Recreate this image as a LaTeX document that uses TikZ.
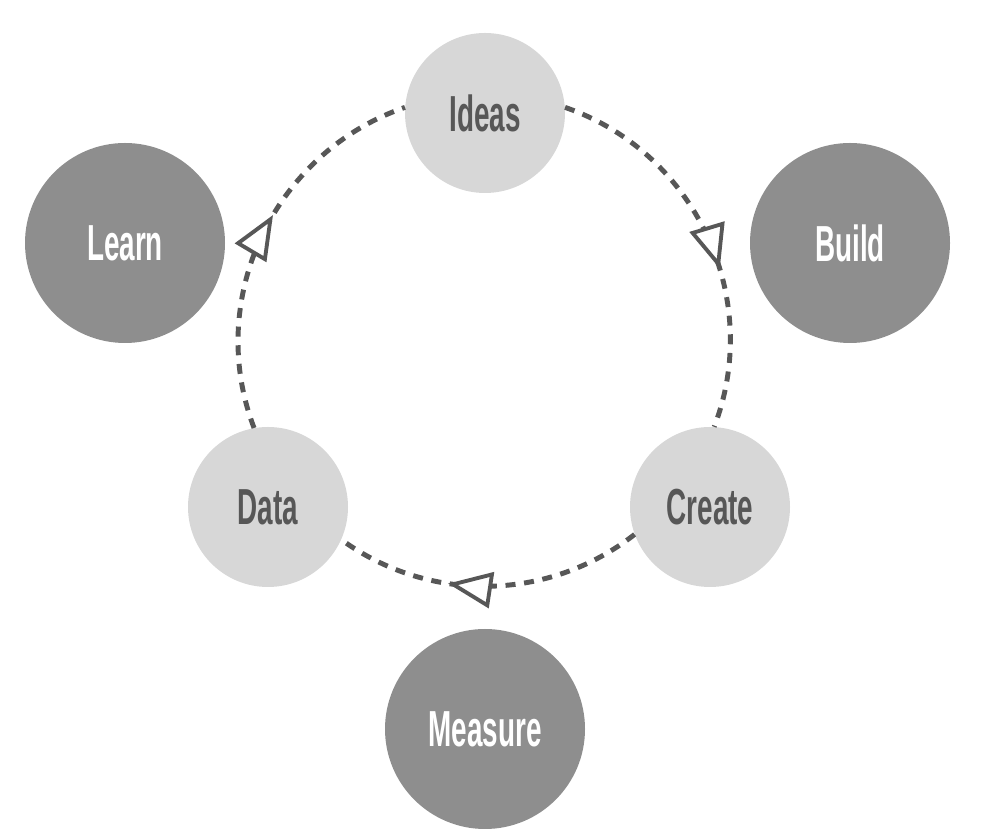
\documentclass[tikz,border=0pt]{standalone}
\usepackage{fontspec}
\newfontfamily\labelfont[FakeStretch=0.55]{Liberation Sans}
\usetikzlibrary{arrows.meta,decorations.markings}

\definecolor{lightdisc}{HTML}{D7D7D7}
\definecolor{darkdisc}{HTML}{8E8E8E}
\definecolor{inkgray}{HTML}{575757}

\tikzset{
  phase/.style={circle, fill=lightdisc, minimum size=120pt, inner sep=0pt,
    text=inkgray, font=\labelfont\bfseries\fontsize{38}{40}\selectfont},
  outcome/.style={circle, fill=darkdisc, minimum size=150pt, inner sep=0pt,
    text=white, font=\labelfont\bfseries\fontsize{38}{40}\selectfont},
  flow/.style={draw=inkgray, line width=3.7pt, dash pattern=on 7.5pt off 6.5pt,
    postaction={decorate}, decoration={markings, mark=at position #1 with
    {\arrow{Triangle[length=33pt, width=27pt, fill=white, line width=2.9pt]}}}},
  flow/.default=0.58
}

\begin{document}
\begin{tikzpicture}[x=0.75pt, y=0.75pt]
  \useasboundingbox (0,0) rectangle (981,838);
  % inner cycle
  \node[phase] (ideas) at (485,725) {Ideas};
  \node[phase] (create) at (710,331) {Create};
  \node[phase] (data) at (268,331) {Data};
  % outer steps
  \node[outcome] (learn) at (125,595) {Learn};
  \node[outcome] (build) at (850,595) {Build};
  \node[outcome] (measure) at (485,109) {Measure};
  % dashed loop, clockwise
  \draw[flow=0.59] (ideas.4) to[out=-19, in=69, looseness=1] (create.87);
  \draw[flow=0.63] (create.200) to[out=-142, in=-36, looseness=0.95] (data.-24);
  \draw[flow=0.56] (data.100) to[out=111, in=199, looseness=1] (ideas.176);
\end{tikzpicture}
\end{document}
